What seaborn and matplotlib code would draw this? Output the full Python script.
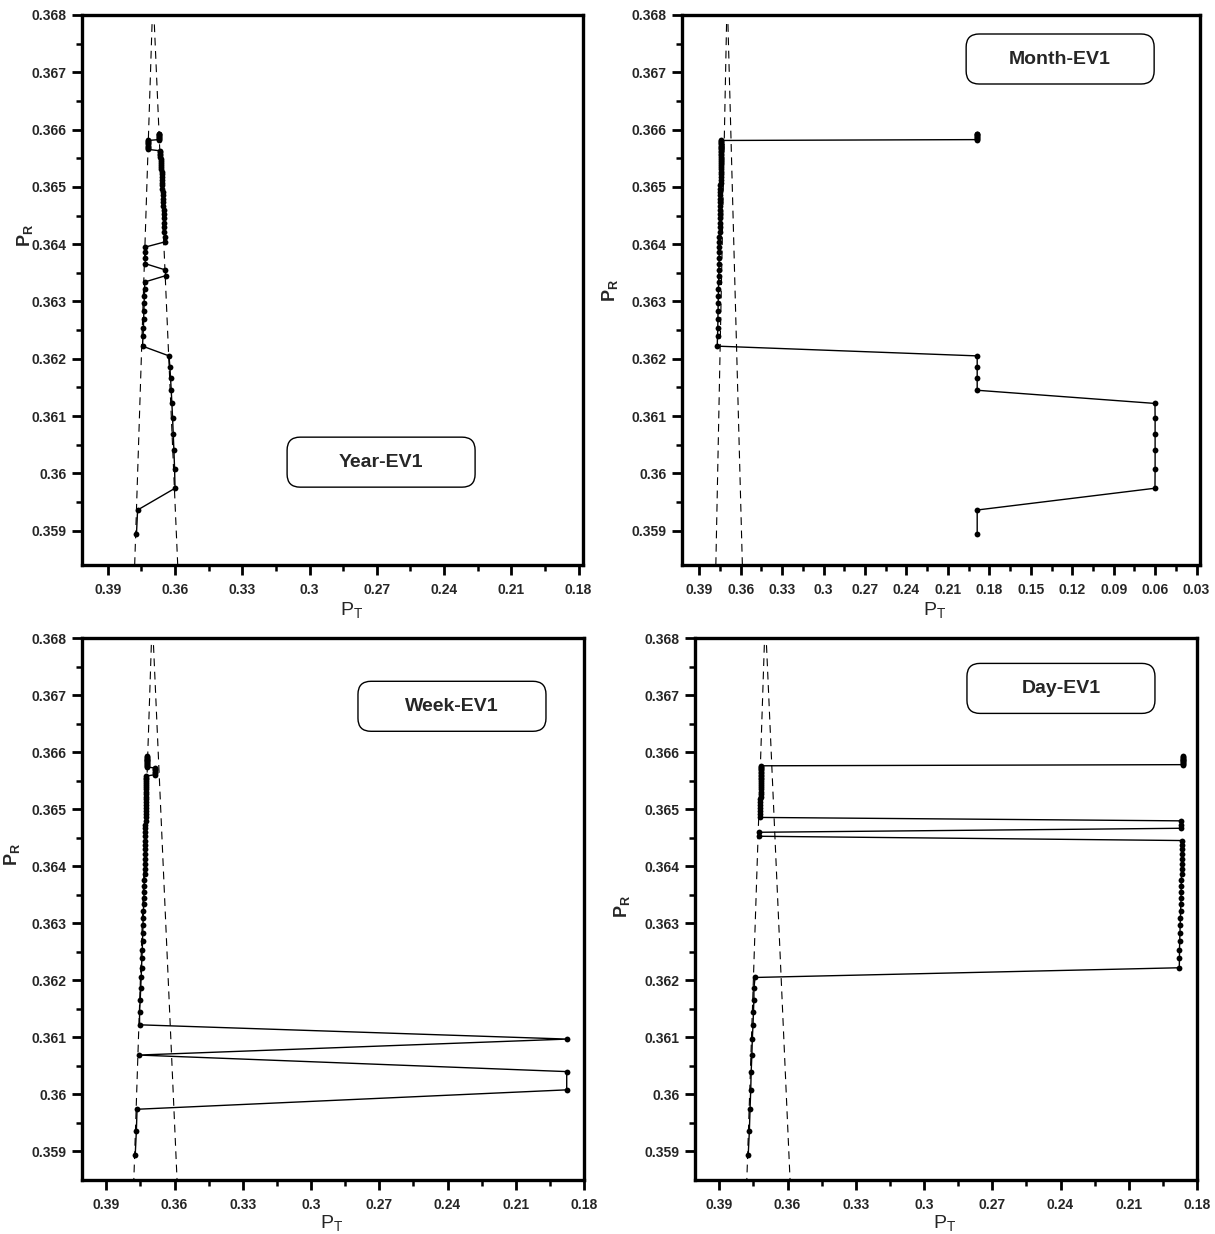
import numpy as np
import pandas as pd
import matplotlib
matplotlib.use("Agg")
import matplotlib.pyplot as plt
from matplotlib.patches import FancyBboxPatch
from matplotlib.ticker import FixedLocator, FuncFormatter
import seaborn as sns

# ---------------- data ----------------
# shared P_R sequence (vertical coordinate of every point, in drawing order)
PR = [0.35894, 0.35936, 0.35974, 0.36008, 0.36040, 0.36069, 0.36097, 0.36122, 0.36145, 0.36166,
      0.36186, 0.36205, 0.36222, 0.36239, 0.36254, 0.36269, 0.36283, 0.36297, 0.36309, 0.36322,
      0.36334, 0.36345, 0.36355, 0.36366, 0.36376, 0.36386, 0.36395, 0.36404, 0.36413, 0.364215,
      0.364295, 0.364375, 0.36445, 0.364525, 0.364595, 0.364665, 0.36473, 0.364795, 0.364855, 0.364915,
      0.36497, 0.365025, 0.365075, 0.365125, 0.365175, 0.36522, 0.365265, 0.365305, 0.365345, 0.365385,
      0.36542, 0.365455, 0.36549, 0.36552, 0.36555, 0.36558, 0.365605, 0.36563, 0.365655, 0.36568,
      0.3657, 0.36572, 0.36574, 0.36576, 0.36578, 0.365795, 0.36581, 0.365825, 0.36584, 0.365855,
      0.36587, 0.365885, 0.3659, 0.365915, 0.36593]

PT_year = [0.3772, 0.3767,
           0.3600, 0.3602, 0.3605, 0.3608, 0.3611, 0.3614, 0.3617, 0.3620, 0.3623, 0.3627,
           0.3745, 0.3743, 0.3741, 0.3740, 0.3739, 0.3738, 0.3737, 0.3736, 0.3735,
           0.3642, 0.3643,
           0.3733, 0.3733, 0.3732, 0.3732,
           0.3645, 0.3646, 0.3647, 0.3648, 0.3648, 0.3649, 0.3650, 0.3651, 0.3652, 0.3652,
           0.3653, 0.3654, 0.3655, 0.3656, 0.3656, 0.3657, 0.3658, 0.3659, 0.3660, 0.3660,
           0.3661, 0.3662, 0.3663, 0.3663, 0.3664, 0.3664, 0.3665, 0.3665, 0.3666, 0.3666, 0.3667,
           0.3722, 0.3722, 0.3721, 0.3721, 0.3721, 0.3721, 0.3720, 0.3720, 0.3720,
           0.3673, 0.3673, 0.3672, 0.3672, 0.3672, 0.3672, 0.3671, 0.3671]

PT_month = [0.1888, 0.1888,
            0.0601, 0.0600, 0.0600, 0.0600, 0.0600, 0.0601,
            0.1888, 0.1888, 0.1888, 0.1888,
            0.3770, 0.3768, 0.3766, 0.3765, 0.3764, 0.3763, 0.3762, 0.3761, 0.3760, 0.3759,
            0.3758, 0.3757, 0.3756, 0.3756, 0.3755, 0.3754, 0.3754, 0.3753, 0.3752, 0.3752,
            0.3751, 0.3751, 0.3750, 0.3750, 0.3749, 0.3749, 0.3748, 0.3748, 0.3747, 0.3747,
            0.3746, 0.3746, 0.3746, 0.3745, 0.3745, 0.3745, 0.3744, 0.3744, 0.3744, 0.3743,
            0.3743, 0.3743, 0.3742, 0.3742, 0.3742, 0.3742, 0.3741, 0.3741, 0.3741, 0.3741,
            0.3741, 0.3740, 0.3740, 0.3740, 0.3740,
            0.1887, 0.1887, 0.1887, 0.1887, 0.1887, 0.1887, 0.1887, 0.1887]

PT_week = [0.3773, 0.3768, 0.3765,
           0.1876, 0.1876,
           0.3758,
           0.1874,
           0.3754, 0.3754, 0.3751, 0.3749, 0.3747, 0.3745, 0.3744, 0.3742, 0.3741, 0.3740,
           0.3739, 0.3738, 0.3737, 0.3736, 0.3735, 0.3734, 0.3734, 0.3733, 0.3732, 0.3732,
           0.3731, 0.3731, 0.3730, 0.3730, 0.3729, 0.3729, 0.3729, 0.3728, 0.3728, 0.3728,
           0.3727, 0.3727, 0.3727, 0.3727, 0.3726, 0.3726, 0.3726, 0.3726, 0.3726, 0.3725,
           0.3725, 0.3725, 0.3725, 0.3725, 0.3724, 0.3724, 0.3724, 0.3724, 0.3724,
           0.3686, 0.3686, 0.3685, 0.3685, 0.3685, 0.3685,
           0.3723, 0.3723, 0.3723, 0.3723, 0.3723, 0.3723, 0.3723, 0.3723, 0.3723, 0.3723,
           0.3723, 0.3723, 0.3723]

PT_day = [0.3773, 0.3768, 0.3765, 0.3762, 0.3760, 0.3757, 0.3755, 0.3752, 0.3750, 0.3748, 0.3748, 0.3743,
          0.1878, 0.1877, 0.1877, 0.1876, 0.1875, 0.1874, 0.1873, 0.1872, 0.1871, 0.1870,
          0.1870, 0.1869, 0.1869, 0.1868, 0.1868, 0.1867, 0.1867, 0.1867, 0.1866, 0.1866, 0.1866,
          0.3724, 0.3724,
          0.1869, 0.1869, 0.1869,
          0.3721, 0.3721, 0.3721, 0.3720, 0.3720, 0.3720, 0.3720, 0.3719, 0.3719, 0.3719,
          0.3719, 0.3719, 0.3718, 0.3718, 0.3718, 0.3718, 0.3718, 0.3717, 0.3717, 0.3717,
          0.3717, 0.3717, 0.3717, 0.3716, 0.3716, 0.3716,
          0.1863, 0.1863, 0.1863, 0.1863, 0.1863, 0.1863, 0.1863, 0.1863, 0.1863, 0.1863, 0.1863]

# dashed boundary lines (P_T, P_R end points)
BOUND_LEFT_PT = [0.3780, 0.3702]
BOUND_RIGHT_PT = [0.3588, 0.3693]
BOUND_PR = [0.3584, 0.3679]

PANEL_TITLES = ["Year-EV1", "Month-EV1", "Week-EV1", "Day-EV1"]
YTICKS = [0.359, 0.360, 0.361, 0.362, 0.363, 0.364, 0.365, 0.366, 0.367, 0.368]
XTICKS_SHORT = [0.39, 0.36, 0.33, 0.30, 0.27, 0.24, 0.21, 0.18]
XTICKS_LONG = [0.39, 0.36, 0.33, 0.30, 0.27, 0.24, 0.21, 0.18, 0.15, 0.12, 0.09, 0.06, 0.03]

# ---------------- style ----------------
sns.set_style("ticks")
plt.rcParams["font.family"] = ["Liberation Sans", "DejaVu Sans"]
plt.rcParams["mathtext.fontset"] = "custom"
plt.rcParams["mathtext.rm"] = "Liberation Sans"
plt.rcParams["mathtext.bf"] = "Liberation Sans:bold"
plt.rcParams["mathtext.it"] = "Liberation Sans:italic"

W, H = 1215, 1234
fig = plt.figure(figsize=(W / 100, H / 100), dpi=100)
fig.patch.set_facecolor("white")

# axes rectangles in pixels: (left, top, right, bottom)
rects = [(82, 15, 583, 565), (682, 15, 1200, 565), (82, 638, 584, 1180), (695, 638, 1197, 1180)]
pts = [PT_year, PT_month, PT_week, PT_day]
xlims = [(0.4015, 0.178), (0.4025, 0.0275), (0.4007, 0.180), (0.4007, 0.180)]
ylims = [(0.3584, 0.368), (0.3584, 0.368), (0.3585, 0.368), (0.3585, 0.368)]
xticks = [XTICKS_SHORT, XTICKS_LONG, XTICKS_SHORT, XTICKS_SHORT]
box_centers = [(0.597, 0.187), (0.730, 0.920), (0.737, 0.874), (0.729, 0.907)]
box_w_px = 188
box_h_px = 50
ylabel_pos = [(-0.094, 0.60), (-0.119, 0.50), (-0.12, 0.60), (-0.125, 0.504)]
xlabel_pos = [(0.539, -0.064), (0.488, -0.064), (0.498, -0.060), (0.498, -0.060)]

fmt = FuncFormatter(lambda v, p: ("%.3f" % v).rstrip("0").rstrip(".") if abs(v) > 1e-9 else "0")

for i in range(4):
    l, t, r, b = rects[i]
    ax = fig.add_axes([l / W, 1 - b / H, (r - l) / W, (b - t) / H])
    aw, ah = r - l, b - t

    # dashed boundary lines
    sns.lineplot(x=BOUND_LEFT_PT, y=BOUND_PR, ax=ax, color="black", linewidth=0.8,
                 linestyle=(0, (7, 5)), sort=False, estimator=None)
    sns.lineplot(x=BOUND_RIGHT_PT, y=BOUND_PR, ax=ax, color="black", linewidth=0.8,
                 linestyle=(0, (7, 5)), sort=False, estimator=None)

    df = pd.DataFrame({"PT": pts[i], "PR": PR})
    sns.lineplot(data=df, x="PT", y="PR", ax=ax, sort=False, estimator=None,
                 color="black", linewidth=1.0, marker="o", markersize=4.2,
                 markeredgewidth=0, markerfacecolor="black")

    ax.set_xlim(*xlims[i])
    ax.set_ylim(*ylims[i])

    xt = xticks[i]
    ax.xaxis.set_major_locator(FixedLocator(xt))
    minors_x = [v - 0.015 for v in xt] + [xt[0] + 0.015 - 0.0]  # midpoints
    ax.xaxis.set_minor_locator(FixedLocator(sorted(set(round(v, 4) for v in minors_x))))
    ax.yaxis.set_major_locator(FixedLocator(YTICKS))
    ax.yaxis.set_minor_locator(FixedLocator([v + 0.0005 for v in YTICKS[:-1]]))
    ax.xaxis.set_major_formatter(fmt)
    ax.yaxis.set_major_formatter(fmt)

    ax.tick_params(axis="both", which="major", direction="out", length=7, width=2,
                   labelsize=10, color="black", pad=4)
    ax.tick_params(axis="both", which="minor", direction="out", length=4, width=1.8, color="black")
    ax.tick_params(axis="x", which="major", pad=6)
    for lab in ax.get_xticklabels() + ax.get_yticklabels():
        lab.set_fontweight("bold")
    for sp in ax.spines.values():
        sp.set_visible(True)
        sp.set_linewidth(2.4)
        sp.set_color("black")

    ax.set_xlabel(r"$\mathrm{P}_{\mathrm{T}}$", fontsize=14)
    ax.set_ylabel(r"$\mathbf{P}_{\mathbf{R}}$", fontsize=13)
    ax.xaxis.set_label_coords(*xlabel_pos[i])
    ax.yaxis.set_label_coords(*ylabel_pos[i])

    # rounded label box
    cx, cy = box_centers[i]
    bw, bh = box_w_px / aw, box_h_px / ah
    rs = 13 / aw
    patch = FancyBboxPatch((cx - bw / 2, cy - bh / 2), bw, bh,
                           boxstyle="round,pad=0,rounding_size=%f" % rs,
                           mutation_aspect=aw / ah, transform=ax.transAxes,
                           facecolor="white", edgecolor="black", linewidth=1.0, zorder=5)
    ax.add_patch(patch)
    ax.text(cx, cy, PANEL_TITLES[i], transform=ax.transAxes, ha="center", va="center",
            fontsize=14, fontweight="bold", zorder=6)

fig.savefig("out.png", dpi=100, facecolor="white")
